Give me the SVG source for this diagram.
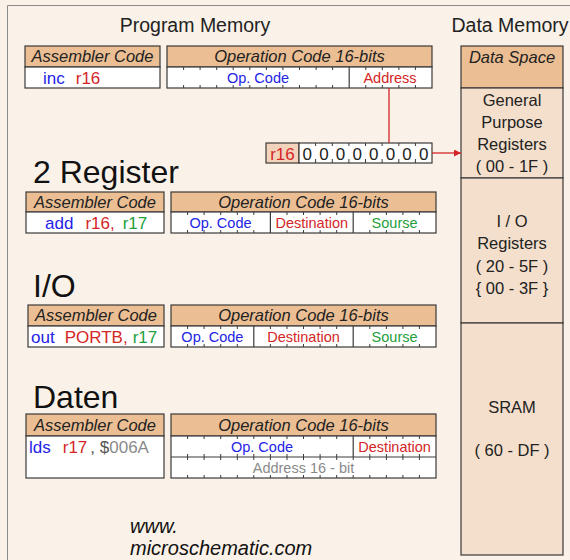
<svg xmlns="http://www.w3.org/2000/svg" width="570" height="560" viewBox="0 0 570 560">
  <style>
    text { font-family: "Liberation Sans", Arial, sans-serif; }
    .bg { fill: #FAF2E8; }
    .frame { fill: none; stroke: #8a8a8a; stroke-width: 1; }
    .hdr { fill: #EBBE93; stroke: #3a3a3a; stroke-width: 1.2; }
    .body { fill: #ffffff; stroke: #3a3a3a; stroke-width: 1.2; }
    .div { stroke: #3a3a3a; stroke-width: 1.2; }
    .tick { stroke: #3a3a3a; stroke-width: 1; fill: none; }
    .mem { fill: #F3DFCC; stroke: #3a3a3a; stroke-width: 1.2; }
    .hdrtxt { font-size: 16.5px; font-style: italic; fill: #222; text-anchor: middle; }
    .title { font-size: 19.5px; fill: #222; text-anchor: middle; }
    .big { font-size: 32px; fill: #111; }
    .code { font-size: 17px; }
    .field { font-size: 14.5px; text-anchor: middle; }
    .memtxt { font-size: 16.5px; fill: #222; text-anchor: middle; }
    .blue { fill: #2323E6; }
    .red { fill: #D42626; }
    .green { fill: #23A03C; }
    .gray { fill: #8a8a8a; }
    .link { stroke: #D42626; stroke-width: 1.3; fill: none; }
  </style>
  <defs>
    <marker id="arrowRed" viewBox="0 0 10 10" refX="10" refY="5" markerWidth="7" markerHeight="7" orient="auto" markerUnits="userSpaceOnUse">
      <path d="M0,0 L10,5 L0,10 z" fill="#D42626"/>
    </marker>
  </defs>

  <rect class="bg" x="0" y="0" width="570" height="560"/>
  <path class="frame" d="M7.5,560 V5.5 H570"/>

  <text class="title" x="195" y="32">Program  Memory</text>
  <text class="title" x="510" y="32">Data Memory</text>

  <!-- data memory column -->
  <g id="data-memory">
    <rect class="hdr" x="461" y="46" width="102" height="42"/>
    <text class="hdrtxt" x="512" y="63">Data Space</text>
    <rect class="mem" x="461" y="88" width="102" height="90"/>
    <text class="memtxt" x="512" y="106">General</text>
    <text class="memtxt" x="512" y="128">Purpose</text>
    <text class="memtxt" x="512" y="150">Registers</text>
    <text class="memtxt" x="512" y="172">( 00 - 1F )</text>
    <rect class="mem" x="461" y="178" width="102" height="145"/>
    <text class="memtxt" x="512" y="227">I / O</text>
    <text class="memtxt" x="512" y="249">Registers</text>
    <text class="memtxt" x="512" y="272">( 20 - 5F )</text>
    <text class="memtxt" x="512" y="294">{ 00 - 3F }</text>
    <rect class="mem" x="461" y="323" width="102" height="232"/>
    <text class="memtxt" x="512" y="413">SRAM</text>
    <text class="memtxt" x="512" y="456">( 60 - DF )</text>
  </g>

  <!-- row 1: inc r16 -->
  <g id="row-inc">
    <rect class="hdr" x="25" y="46" width="135" height="21"/>
    <text class="hdrtxt" x="92.5" y="62">Assembler  Code</text>
    <rect class="body" x="25" y="67" width="135" height="21"/>
    <text class="code" x="43" y="84"><tspan class="blue">inc</tspan><tspan class="red" dx="11">r16</tspan></text>
    <rect class="hdr" x="167" y="46" width="265" height="21"/>
    <text class="hdrtxt" x="299.5" y="62">Operation  Code  16-bits</text>
    <rect class="body" x="167" y="67" width="265" height="21"/>
    <path class="tick" d="M183.6,67v3M200.1,67v3M216.7,67v3M233.2,67v3M249.8,67v3M266.4,67v3M282.9,67v3M299.5,67v3M316.1,67v3M332.6,67v3M365.8,67v3M382.3,67v3M398.9,67v3M415.4,67v3
      M183.6,88v-3M200.1,88v-3M216.7,88v-3M233.2,88v-3M249.8,88v-3M266.4,88v-3M282.9,88v-3M299.5,88v-3M316.1,88v-3M332.6,88v-3M365.8,88v-3M382.3,88v-3M398.9,88v-3M415.4,88v-3"/>
    <line class="div" x1="349.2" y1="67" x2="349.2" y2="88"/>
    <text class="field blue" x="258" y="83">Op. Code</text>
    <text class="field red" x="390" y="83">Address</text>
  </g>

  <!-- register r16 -->
  <g id="reg-r16">
    <rect x="266" y="143" width="33" height="20" fill="#F3D3BC" stroke="#3a3a3a" stroke-width="1.2"/>
    <text class="code red" x="282.5" y="159.5" text-anchor="middle">r16</text>
    <rect class="body" x="299" y="143" width="133" height="20"/>
    <path class="tick" d="M315.6,143v3M332.3,143v3M348.9,143v3M365.5,143v3M382.1,143v3M398.8,143v3M415.4,143v3
      M315.6,163v-4M332.3,163v-4M348.9,163v-4M365.5,163v-4M382.1,163v-4M398.8,163v-4M415.4,163v-4"/>
    <g class="code" fill="#222" text-anchor="middle">
      <text x="307.3" y="159.5">0</text>
      <text x="324" y="159.5">0</text>
      <text x="340.6" y="159.5">0</text>
      <text x="357.2" y="159.5">0</text>
      <text x="373.8" y="159.5">0</text>
      <text x="390.5" y="159.5">0</text>
      <text x="407.1" y="159.5">0</text>
      <text x="423.7" y="159.5">0</text>
    </g>
  </g>

  <!-- row 2: add r16, r17 -->
  <text class="big" x="33" y="183">2 Register</text>
  <g id="row-add">
    <rect class="hdr" x="26" y="192" width="138" height="20"/>
    <text class="hdrtxt" x="95" y="208">Assembler  Code</text>
    <rect class="body" x="26" y="212" width="138" height="21"/>
    <text class="code" x="45" y="229"><tspan class="blue">add</tspan><tspan class="red" dx="12">r16,</tspan><tspan class="green" dx="8">r17</tspan></text>
    <rect class="hdr" x="171" y="192" width="265" height="20"/>
    <text class="hdrtxt" x="303.5" y="208">Operation  Code  16-bits</text>
    <rect class="body" x="171" y="212" width="265" height="21"/>
    <path class="tick" d="M187.6,212v3M204.1,212v3M220.7,212v3M237.3,212v3M253.8,212v3M287,212v3M303.5,212v3M320.1,212v3M336.7,212v3M369.8,212v3M386.4,212v3M402.9,212v3M419.4,212v3
      M187.6,233v-3M204.1,233v-3M220.7,233v-3M237.3,233v-3M253.8,233v-3M287,233v-3M303.5,233v-3M320.1,233v-3M336.7,233v-3M369.8,233v-3M386.4,233v-3M402.9,233v-3M419.4,233v-3"/>
    <line class="div" x1="270.4" y1="212" x2="270.4" y2="233"/>
    <line class="div" x1="353.2" y1="212" x2="353.2" y2="233"/>
    <text class="field blue" x="220.5" y="228">Op. Code</text>
    <text class="field red" x="311.8" y="228">Destination</text>
    <text class="field green" x="394.6" y="228">Sourse</text>
  </g>

  <!-- row 3: out PORTB, r17 -->
  <text class="big" x="33" y="297">I/O</text>
  <g id="row-out">
    <rect class="hdr" x="28" y="305" width="136" height="21"/>
    <text class="hdrtxt" x="96" y="321">Assembler  Code</text>
    <rect class="body" x="28" y="326" width="136" height="21"/>
    <text class="code" x="31" y="343"><tspan class="blue">out</tspan><tspan class="red" dx="10">PORTB,</tspan><tspan class="green" dx="5">r17</tspan></text>
    <rect class="hdr" x="171" y="305" width="265" height="21"/>
    <text class="hdrtxt" x="303.5" y="321">Operation  Code  16-bits</text>
    <rect class="body" x="171" y="326" width="265" height="21"/>
    <path class="tick" d="M187.6,326v3M204.1,326v3M220.7,326v3M237.3,326v3M270.4,326v3M287,326v3M303.5,326v3M320.1,326v3M336.7,326v3M369.8,326v3M386.4,326v3M402.9,326v3M419.4,326v3
      M187.6,347v-3M204.1,347v-3M220.7,347v-3M237.3,347v-3M270.4,347v-3M287,347v-3M303.5,347v-3M320.1,347v-3M336.7,347v-3M369.8,347v-3M386.4,347v-3M402.9,347v-3M419.4,347v-3"/>
    <line class="div" x1="253.8" y1="326" x2="253.8" y2="347"/>
    <line class="div" x1="353.2" y1="326" x2="353.2" y2="347"/>
    <text class="field blue" x="212.4" y="342">Op. Code</text>
    <text class="field red" x="303.5" y="342">Destination</text>
    <text class="field green" x="394.6" y="342">Sourse</text>
  </g>

  <!-- row 4: lds r17, $006A -->
  <text class="big" x="33" y="408">Daten</text>
  <g id="row-lds">
    <rect class="hdr" x="26" y="414" width="138" height="22"/>
    <text class="hdrtxt" x="95" y="431">Assembler  Code</text>
    <rect class="body" x="26" y="436" width="138" height="42"/>
    <text class="code" x="29" y="453"><tspan class="blue">lds</tspan><tspan class="red" dx="12">r17</tspan><tspan fill="#555" dx="3">, $</tspan><tspan class="gray">006A</tspan></text>
    <rect class="hdr" x="171" y="414" width="265" height="22"/>
    <text class="hdrtxt" x="303.5" y="431">Operation  Code  16-bits</text>
    <rect class="body" x="171" y="436" width="265" height="42"/>
    <line class="div" x1="171" y1="457" x2="436" y2="457"/>
    <path class="tick" d="M187.6,436v3M204.1,436v3M220.7,436v3M237.3,436v3M253.8,436v3M270.4,436v3M287,436v3M303.5,436v3M320.1,436v3M336.7,436v3M369.8,436v3M386.4,436v3M402.9,436v3M419.4,436v3
      M187.6,457v-3M204.1,457v-3M220.7,457v-3M237.3,457v-3M253.8,457v-3M270.4,457v-3M287,457v-3M303.5,457v-3M320.1,457v-3M336.7,457v-3M369.8,457v-3M386.4,457v-3M402.9,457v-3M419.4,457v-3
      M187.6,457v3M204.1,457v3M220.7,457v3M237.3,457v3M253.8,457v3M270.4,457v3M287,457v3M303.5,457v3M320.1,457v3M336.7,457v3M353.2,457v3M369.8,457v3M386.4,457v3M402.9,457v3M419.4,457v3
      M187.6,478v-3M204.1,478v-3M220.7,478v-3M237.3,478v-3M253.8,478v-3M270.4,478v-3M287,478v-3M303.5,478v-3M320.1,478v-3M336.7,478v-3M353.2,478v-3M369.8,478v-3M386.4,478v-3M402.9,478v-3M419.4,478v-3"/>
    <line class="div" x1="353.2" y1="436" x2="353.2" y2="457"/>
    <text class="field blue" x="262" y="452">Op. Code</text>
    <text class="field red" x="394.6" y="452">Destination</text>
    <text class="field gray" x="303.5" y="473">Address  16 - bit</text>
  </g>

  <!-- connectors -->
  <g id="connectors">
    <line class="link" x1="389" y1="88" x2="389" y2="143"/>
    <line class="link" x1="432" y1="153" x2="461" y2="153" marker-end="url(#arrowRed)"/>
  </g>

  <text x="130" y="533" font-size="20" font-style="italic" fill="#111">www.</text>
  <text x="130" y="555" font-size="20" font-style="italic" fill="#111">microschematic.com</text>
</svg>
